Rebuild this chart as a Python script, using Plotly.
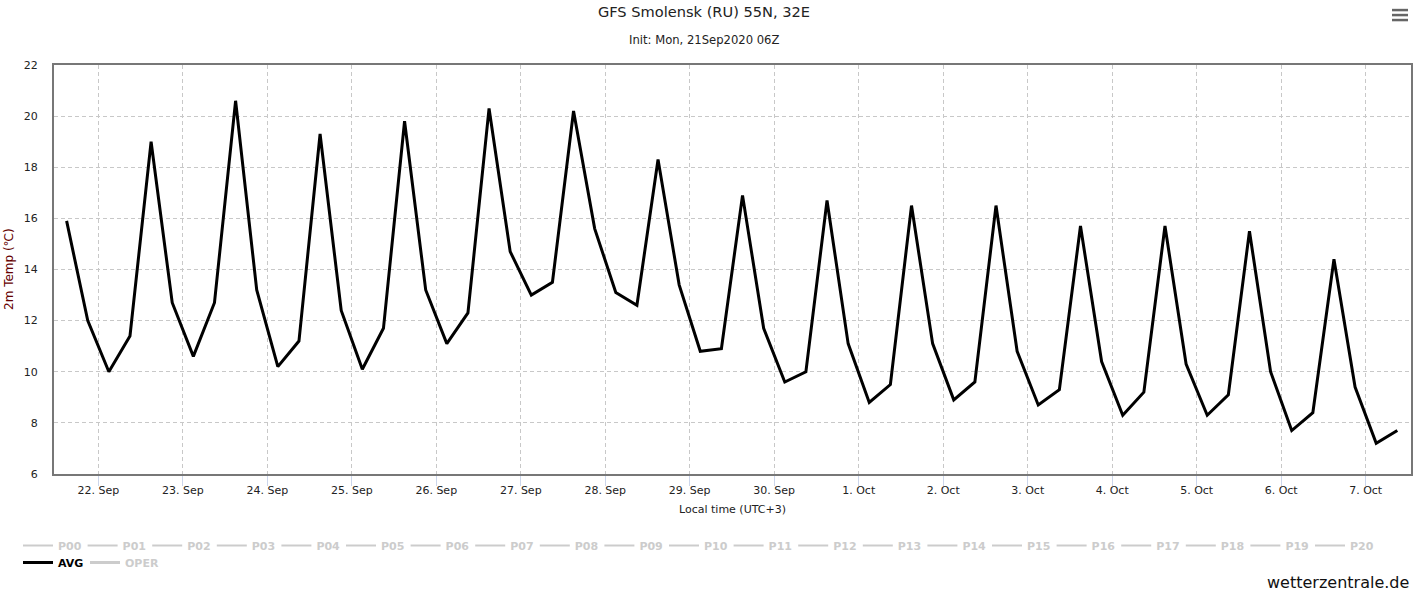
import pandas as pd
import plotly.graph_objects as go

# ---- data ----
start_time = "2020-09-21 15:00"
step_hours = 6
avg_temp = [
    15.9, 12.0, 10.0, 11.4, 19.0, 12.7, 10.6, 12.7,
    20.6, 13.2, 10.2, 11.2, 19.3, 12.4, 10.1, 11.7,
    19.8, 13.2, 11.1, 12.3, 20.3, 14.7, 13.0, 13.5,
    20.2, 15.6, 13.1, 12.6, 18.3, 13.4, 10.8, 10.9,
    16.9, 11.7, 9.6, 10.0, 16.7, 11.1, 8.8, 9.5,
    16.5, 11.1, 8.9, 9.6, 16.5, 10.8, 8.7, 9.3,
    15.7, 10.4, 8.3, 9.2, 15.7, 10.3, 8.3, 9.1,
    15.5, 10.0, 7.7, 8.4, 14.4, 9.4, 7.2, 7.7,
]
member_names = ["P%02d" % i for i in range(21)]
y_ticks = [6, 8, 10, 12, 14, 16, 18, 20, 22]

times = pd.date_range(start_time, periods=len(avg_temp), freq=f"{step_hours}h")

FONT = "DejaVu Sans"
W, H = 1418, 594
L, R, T, B = 54, 1411, 65, 474.5

fig = go.Figure()

# hidden ensemble members (legend only, greyed)
for name in member_names:
    fig.add_trace(go.Scatter(
        x=[None], y=[None], name=name, mode="lines",
        line=dict(color="#cccccc", width=2), legend="legend",
        hoverinfo="skip",
    ))

fig.add_trace(go.Scatter(
    x=times, y=avg_temp, name="AVG", mode="lines",
    line=dict(color="#000000", width=3), legend="legend2",
))
fig.add_trace(go.Scatter(
    x=[None], y=[None], name="OPER", mode="lines",
    line=dict(color="#cccccc", width=3), legend="legend3",
))

def px2paper_x(px):
    return (px - L) / (R - L)

def px2paper_y(py):
    return (B - py) / (B - T)

# hamburger menu icon
shapes = []
for yc in (10, 15, 20):
    shapes.append(dict(
        type="line", xref="paper", yref="paper",
        x0=px2paper_x(1392), x1=px2paper_x(1408),
        y0=px2paper_y(yc), y1=px2paper_y(yc),
        line=dict(color="#666666", width=2.5),
    ))

legend_common = dict(
    orientation="h", xref="container", yref="container",
    xanchor="left", yanchor="top", bgcolor="rgba(0,0,0,0)",
    itemclick=False, itemdoubleclick=False,
    tracegroupgap=0,
)

fig.update_layout(
    width=W, height=H,
    margin=dict(l=L, r=W - R, t=T, b=H - B, autoexpand=False),
    paper_bgcolor="#ffffff", plot_bgcolor="#ffffff",
    font=dict(family=FONT, size=11, color="#222222"),
    title=dict(
        text="GFS Smolensk (RU) 55N, 32E",
        x=704 / W, xref="container", xanchor="center",
        y=1 - 12 / H, yref="container", yanchor="middle",
        font=dict(family=FONT, size=14.6, color="#222222"),
    ),
    showlegend=True,
    legend=dict(
        **legend_common, x=18 / W, y=1 - 531 / H,
        entrywidth=19.6, entrywidthmode="pixels",
        font=dict(family=FONT, size=11, color="#cccccc", weight="bold"),
    ),
    legend2=dict(
        **legend_common, x=18 / W, y=1 - 548 / H,
        font=dict(family=FONT, size=11, color="#000000", weight="bold"),
    ),
    legend3=dict(
        **legend_common, x=85 / W, y=1 - 548 / H,
        font=dict(family=FONT, size=11, color="#cccccc", weight="bold"),
    ),
    xaxis=dict(
        type="date", automargin=False,
        range=["2020-09-21 11:25", "2020-10-07 12:53"],
        tick0="2020-09-22", dtick=86400000,
        tickformat="%-d. %b",
        showgrid=True, gridcolor="#c8c8c8", griddash="4px,3px", gridwidth=1,
        ticks="outside", ticklen=10, tickcolor="#ccd6eb", tickwidth=1,
        ticklabelstandoff=-5,
        showline=True, linecolor="#777777", linewidth=2, mirror=True,
        zeroline=False,
        tickfont=dict(family=FONT, size=11, color="#222222"),
    ),
    yaxis=dict(
        range=[6, 22], tickvals=y_ticks, automargin=False,
        showgrid=True, gridcolor="#c8c8c8", griddash="4px,3px", gridwidth=1,
        ticks="", ticklabelstandoff=12,
        showline=True, linecolor="#777777", linewidth=2, mirror=True,
        zeroline=False,
        tickfont=dict(family=FONT, size=11, color="#222222"),
    ),
    shapes=shapes,
    annotations=[
        dict(text="Init: Mon, 21Sep2020 06Z", xref="paper", yref="paper",
             x=px2paper_x(704), y=px2paper_y(40), xanchor="center", yanchor="middle",
             showarrow=False, font=dict(family=FONT, size=11.6, color="#222222")),
        dict(text="Local time (UTC+3)", xref="paper", yref="paper",
             x=0.5, y=px2paper_y(510), xanchor="center", yanchor="middle",
             showarrow=False, font=dict(family=FONT, size=11, color="#222222")),
        dict(text="2m Temp (℃)", xref="paper", yref="paper", textangle=-90,
             x=px2paper_x(8.5), y=0.5, xanchor="center", yanchor="middle",
             showarrow=False, font=dict(family=FONT, size=12, color="#660000")),
        dict(text="wetterzentrale.de", xref="paper", yref="paper",
             x=px2paper_x(1411), y=px2paper_y(583), xanchor="right", yanchor="middle",
             showarrow=False, font=dict(family=FONT, size=16, color="#111111")),
    ],
)

fig.write_html("out.html", config={"displayModeBar": False})
